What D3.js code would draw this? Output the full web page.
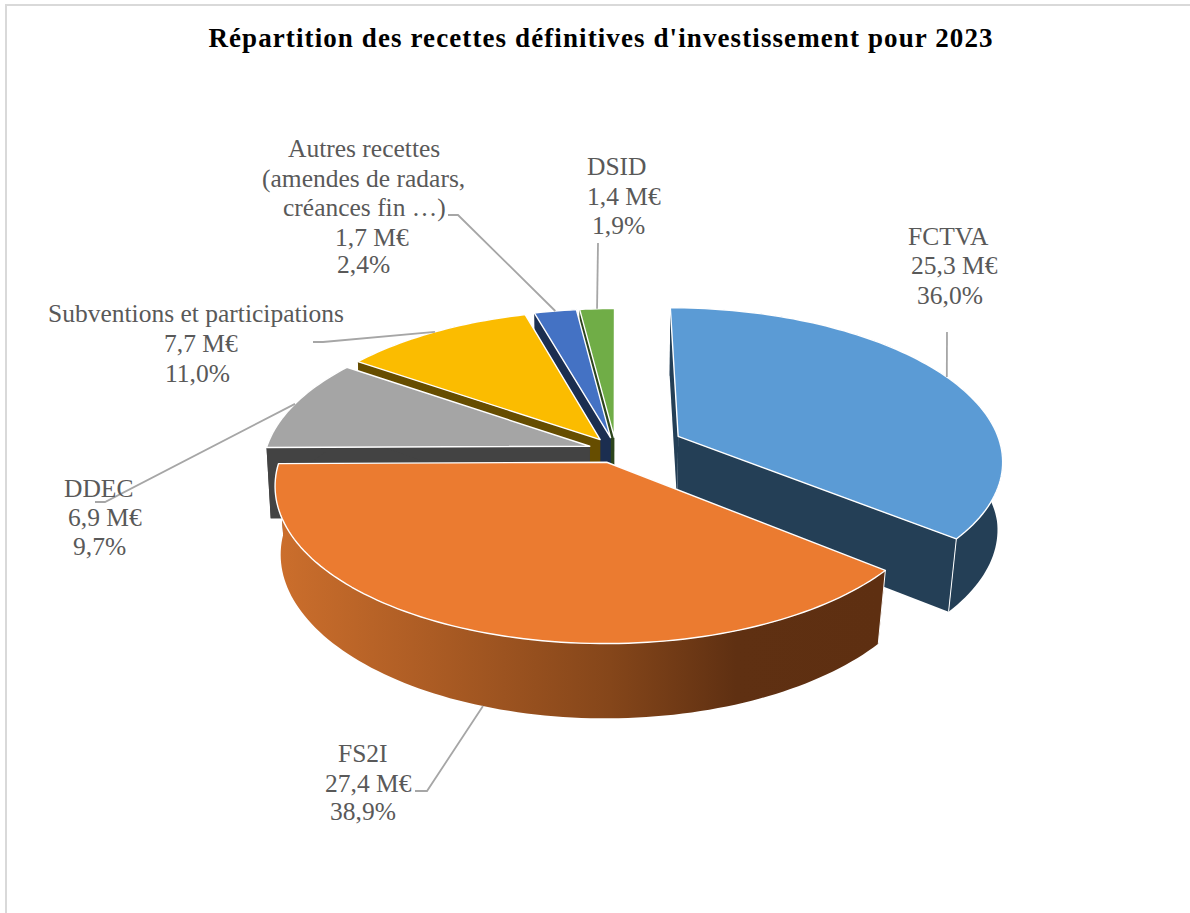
<!DOCTYPE html>
<html lang="fr">
<head>
<meta charset="utf-8">
<title>Répartition des recettes définitives d'investissement pour 2023</title>
<script src="https://cdn.jsdelivr.net/npm/d3@7"></script>
<style>
  html, body { margin: 0; padding: 0; background: #fff; overflow: hidden; }
  text { font-family: "Liberation Serif", "Times New Roman", serif; }
</style>
</head>
<body>
<svg id="chart" width="1190" height="913"></svg>
<script>
// Recettes d'investissement 2023
const categories = ["FCTVA", "FS2I", "DDEC", "Subventions et participations", "Autres recettes", "DSID"];
const amounts = [25.3, 27.4, 6.9, 7.7, 1.7, 1.4];
const amountLabels = ["25,3 M€", "27,4 M€", "6,9 M€", "7,7 M€", "1,7 M€", "1,4 M€"];
const shareLabels = ["36,0%", "38,9%", "9,7%", "11,0%", "2,4%", "1,9%"];
const titleText = "Répartition des recettes définitives d'investissement pour 2023";

// Couleurs des faces : dessus et flancs
const topColors = ["#5B9BD5", "#EB7B30", "#A5A5A5", "#FBBC00", "#4472C4", "#70AD47"];
const wallColors = ["#243F56", "#5E2F11", "#434343", "#664D00", "#1B2E50", "#2C451C"];
const explosion = [0.215, 0.085, 0.085, 0.085, 0.085, 0.085];
const paintOrder = [5, 4, 3, 2, 0, 1];

// Camera model of the tilted pie
const cam = { cx: 616, cy: 450, A: 324, B: 151, d: 6.86, depth: 71, taper: 0.012, taperFront: 0.02 };
function project(u, v, bottom) {
  const s = 1 / (1 - v / cam.d);
  let x = cam.cx + cam.A * u * s;
  let y = cam.cy + cam.B * v * s;
  if (bottom) {
    const taper = cam.taper + cam.taperFront * Math.max(v, 0);
    x = cam.cx + (x - cam.cx) * (1 - taper);
    y += cam.depth * Math.pow(s, 0.3);
  }
  return [x, y];
}

const svg = d3.select("#chart");
const defs = svg.append("defs");
const sideShade = defs.append("linearGradient")
  .attr("id", "sideShade")
  .attr("gradientUnits", "userSpaceOnUse")
  .attr("x1", 280).attr("x2", 880).attr("y1", 0).attr("y2", 0);
sideShade.append("stop").attr("offset", 0).attr("stop-color", "#CB6E2C");
sideShade.append("stop").attr("offset", 0.25).attr("stop-color", "#AC5C24");
sideShade.append("stop").attr("offset", 0.55).attr("stop-color", "#85461A");
sideShade.append("stop").attr("offset", 0.76).attr("stop-color", "#5F3012");
sideShade.append("stop").attr("offset", 1).attr("stop-color", "#5E2F11");

// Cadre du graphique
svg.append("rect")
  .attr("x", 6).attr("y", 5).attr("width", 1400).attr("height", 1200)
  .attr("fill", "#fff").attr("stroke", "#D9D9D9").attr("stroke-width", 2);

svg.append("text")
  .attr("x", 601).attr("y", 47)
  .attr("text-anchor", "middle")
  .attr("font-weight", "bold").attr("font-size", 27)
  .attr("letter-spacing", 1.1)
  .attr("fill", "#000")
  .text(titleText);

const pie = d3.pie().sort(null).startAngle(0).endAngle(2 * Math.PI);
const arcs = pie(amounts);
const line = d3.line();

function rimPoint(i, angle, bottom) {
  const mid = (arcs[i].startAngle + arcs[i].endAngle) / 2;
  const e = explosion[i];
  return project(e * Math.sin(mid) + Math.sin(angle), -e * Math.cos(mid) - Math.cos(angle), bottom);
}
function apexPoint(i, bottom) {
  const mid = (arcs[i].startAngle + arcs[i].endAngle) / 2;
  const e = explosion[i];
  return project(e * Math.sin(mid), -e * Math.cos(mid), bottom);
}
function arcAngles(i) {
  const a = arcs[i];
  const n = Math.max(6, Math.ceil((a.endAngle - a.startAngle) * 40));
  return d3.range(n + 1).map(k => a.startAngle + (a.endAngle - a.startAngle) * k / n);
}

const slices = svg.append("g").attr("class", "slices");
paintOrder.forEach(i => {
  const a = arcs[i];
  const g = slices.append("g").attr("class", "slice");
  const angles = arcAngles(i);
  const fillSide = i === 1 ? "url(#sideShade)" : wallColors[i];

  // Flancs radiaux
  [a.startAngle, a.endAngle].forEach(edge => {
    g.append("path")
      .attr("d", line([apexPoint(i, false), rimPoint(i, edge, false), rimPoint(i, edge, true), apexPoint(i, true)]) + "Z")
      .attr("fill", wallColors[i]);
  });

  // Flanc extérieur
  const topArc = angles.map(t => rimPoint(i, t, false));
  const bottomArc = angles.map(t => rimPoint(i, t, true)).reverse();
  g.append("path")
    .attr("d", line(topArc.concat(bottomArc)) + "Z")
    .attr("fill", fillSide);

  // Arête entre le flanc radial et le flanc extérieur
  if (i === 0 || i === 1) {
    const edge = i === 0 ? a.endAngle : a.startAngle;
    g.append("path")
      .attr("d", line([rimPoint(i, edge, false), rimPoint(i, edge, true)]))
      .attr("stroke", "#fff").attr("stroke-width", 1);
  }

  // Face supérieure
  g.append("path")
    .attr("d", line([apexPoint(i, false)].concat(topArc)) + "Z")
    .attr("fill", topColors[i])
    .attr("stroke", "#fff").attr("stroke-width", 1.4)
    .attr("stroke-linejoin", "round");
});

// Étiquettes : position de chaque ligne et point de départ du trait de rappel
const labelLines = [
  [[categories[0], 908, 245], [amountLabels[0], 911, 274], [shareLabels[0], 917, 304]],
  [[categories[1], 338, 762], [amountLabels[1], 325, 792], [shareLabels[1], 330, 820]],
  [[categories[2], 64, 497], [amountLabels[2], 68, 526], [shareLabels[2], 73, 555]],
  [[categories[3], 48, 322], [amountLabels[3], 164, 352], [shareLabels[3], 165, 382]],
  [["Autres recettes", 288, 157], ["(amendes de radars,", 262, 187], ["créances fin …)", 283, 216],
   [amountLabels[4], 335, 246], [shareLabels[4], 337, 273]],
  [[categories[5], 587, 175], [amountLabels[5], 587, 205], [shareLabels[5], 592, 234]]
];
const leaderStarts = [
  [[947, 332]],
  [[415, 791], [427, 791]],
  [[95, 502], [105, 502]],
  [[313, 342], [323, 342]],
  [[448, 215], [458, 215]],
  [[598, 243]]
];

const labels = svg.append("g").attr("class", "labels");
arcs.forEach((a, i) => {
  const mid = (a.startAngle + a.endAngle) / 2;
  const anchor = rimPoint(i, mid, i === 1);
  labels.append("path")
    .attr("d", line(leaderStarts[i].concat([anchor])))
    .attr("fill", "none").attr("stroke", "#A6A6A6").attr("stroke-width", 1.8);
  labelLines[i].forEach(([txt, x, y]) => {
    labels.append("text")
      .attr("x", x).attr("y", y)
      .attr("font-size", 25.5).attr("fill", "#595959")
      .text(txt);
  });
});
</script>
</body>
</html>
